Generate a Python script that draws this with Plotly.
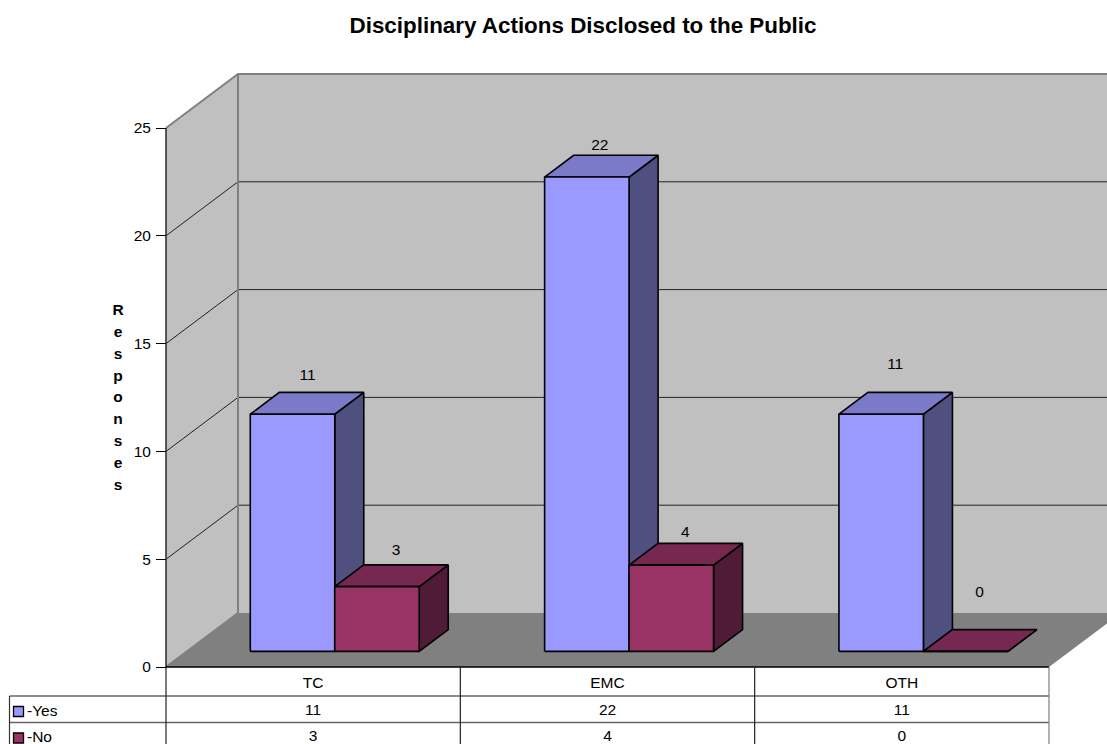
import plotly.graph_objects as go

categories = ["TC", "EMC", "OTH"]
series_names = ["-Yes", "-No"]
yes_values = [11, 22, 11]
no_values = [3, 4, 0]
tick_values = [0, 5, 10, 15, 20, 25]
title_text = "Disciplinary Actions Disclosed to the Public"
y_title = "Responses"

PAGE_W, PAGE_H = 1107, 744
OFF = 0                        # the page margin is removed below
W, H = PAGE_W - OFF, PAGE_H - OFF
LEFT, BASE = 166, 667          # page position of category 0 / value 0
U, V = 294.33, 21.56           # pixels per category, pixels per value
DX, DY = 72 / U, 54 / V        # full depth of the box, in axis units
Z0, Z1 = 0.29, 0.693           # depth of the bars
BAR_START, BAR_W = 0.2154, 0.287
FONT = "Liberation Sans"
FS = 15.5
YES = ("#9999FF", "#7A7AC8", "#4F4F80")
NO = ("#993366", "#772850", "#501B36")


def X(px):
    return (px - LEFT) / U


def Y(py):
    return (BASE - py) / V


def P(x, v, z=0.0):
    return x + z * DX, v + z * DY


fig = go.Figure()


def poly(points, fill=None, line=None, width=1.0, close=True):
    pts = list(points) + ([points[0]] if close else [])
    fig.add_trace(go.Scatter(
        x=[p[0] for p in pts], y=[p[1] for p in pts], mode="lines",
        fill="toself" if fill else None, fillcolor=fill,
        line=dict(color=line or "rgba(0,0,0,0)", width=width),
        hoverinfo="skip", showlegend=False))


def text(x, y, s, size=FS, bold=False, anchor="middle center"):
    fig.add_trace(go.Scatter(
        x=[x], y=[y - 1 / V], mode="text", text=[f"<b>{s}</b>" if bold else str(s)],
        textposition=anchor, textfont=dict(family=FONT, size=size, color="#000000"),
        hoverinfo="skip", showlegend=False))


top = tick_values[-1]
n = len(categories)
far = X(PAGE_W + 40)

# walls and floor
poly([P(0, 0, 1), P(far, 0, 1), P(far, top, 1), P(0, top, 1)], fill="#C0C0C0")
poly([P(0, 0), P(0, 0, 1), P(0, top, 1), P(0, top)], fill="#C0C0C0")
poly([P(0, 0), P(0, 0, 1), P(n, 0, 1), P(n, 0)], fill="#808080")

# gridlines
for t in tick_values[1:-1]:
    poly([P(0, t), P(0, t, 1), P(far, t, 1)], line="#222222", width=1, close=False)
poly([P(0, top), P(0, top, 1), P(far, top, 1)], line="#808080", width=2, close=False)
poly([P(0, 0), P(0, 0, 1), P(0, top, 1)], line="#808080", width=2, close=False)

# bars
label_lift = [[39, 37], [32, 33], [50, 59]]
label_shift = [[15, 19], [13, 14], [14, 14]]
for i in range(n):
    for j, (vals, cols) in enumerate(((yes_values, YES), (no_values, NO))):
        v = vals[i]
        x0 = i + BAR_START + j * BAR_W
        x1 = x0 + BAR_W
        poly([P(x1, 0, Z0), P(x1, 0, Z1), P(x1, v, Z1), P(x1, v, Z0)], cols[2], "#000000", 1.6)
        poly([P(x0, v, Z0), P(x0, v, Z1), P(x1, v, Z1), P(x1, v, Z0)], cols[1], "#000000", 1.6)
        poly([P(x0, 0, Z0), P(x1, 0, Z0), P(x1, v, Z0), P(x0, v, Z0)], cols[0], "#000000", 1.6)
        fx, fy = P((x0 + x1) / 2, v, Z0)
        text(fx + label_shift[i][j] / U, fy + label_lift[i][j] / V, v)

# vertical axis line
poly([P(0, 0), P(0, top)], line="#333333", width=1.6, close=False)

# data table
table_right = n
for row_y in (696, 722.5):
    poly([(X(9.5), Y(row_y)), (table_right, Y(row_y))], line="#666666", width=1.3, close=False)
poly([(0, 0), (table_right, 0)], line="#000000", width=1.3, close=False)
poly([(X(9.5), Y(696)), (X(9.5), Y(PAGE_H + 5))], line="#333333", width=1.2, close=False)
for k in range(n):
    poly([(k, 0), (k, Y(PAGE_H + 5))], line="#222222", width=1.2, close=False)
poly([(n, 0), (n, Y(PAGE_H + 5))], line="#808080", width=1.2, close=False)

for i in range(n):
    text(i + 0.5, Y(710), yes_values[i])
    text(i + 0.5, Y(736), no_values[i])

for name, cols, key_y, txt_y in ((series_names[0], YES, 711.5, 711),
                                 (series_names[1], NO, 738, 737)):
    fig.add_trace(go.Scatter(
        x=[X(18.5)], y=[Y(key_y)], mode="markers",
        marker=dict(symbol="square", size=10, color=cols[0],
                    line=dict(color="#000000", width=1.3)),
        hoverinfo="skip", showlegend=False))
    text(X(27), Y(txt_y), name, anchor="middle right")

# vertical axis title, one letter per row
for k, ch in enumerate(y_title):
    text(X(118), Y(310 + k * 21.9), ch, bold=True)

fig.update_layout(
    width=W, height=H, autosize=False,
    margin=dict(l=0, r=0, t=0, b=0),
    paper_bgcolor="#FFFFFF", plot_bgcolor="#FFFFFF",
    showlegend=False,
    font=dict(family=FONT, size=FS, color="#000000"),
    title=dict(text=f"<b>{title_text}</b>", x=(583 - OFF) / W, xanchor="center",
               y=1 - (25 - OFF) / H, yanchor="middle",
               font=dict(family=FONT, size=22.4, color="#000000")),
    xaxis=dict(
        domain=[0, 1], range=[(OFF - LEFT) / U, (PAGE_W - LEFT) / U], anchor="free",
        position=(PAGE_H - BASE) / H, showgrid=False, zeroline=False, showline=False,
        tickmode="array", tickvals=[i + 0.5 for i in range(n)], ticktext=categories,
        ticks="", ticklen=0, ticklabelstandoff=4,
        tickfont=dict(family=FONT, size=FS, color="#000000")),
    yaxis=dict(
        domain=[0, 1], range=[(BASE - PAGE_H) / V, (BASE - OFF) / V], anchor="free",
        position=(LEFT - OFF) / W, showgrid=False, zeroline=False, showline=False,
        tickmode="array", tickvals=tick_values, ticks="outside", ticklen=10,
        tickwidth=1, tickcolor="#000000", ticklabelstandoff=2,
        tickfont=dict(family=FONT, size=FS, color="#000000")),
)

fig.write_html("out.html", config={"displayModeBar": False},
               post_script="document.body.style.margin='0';document.documentElement.style.overflow='hidden';")
